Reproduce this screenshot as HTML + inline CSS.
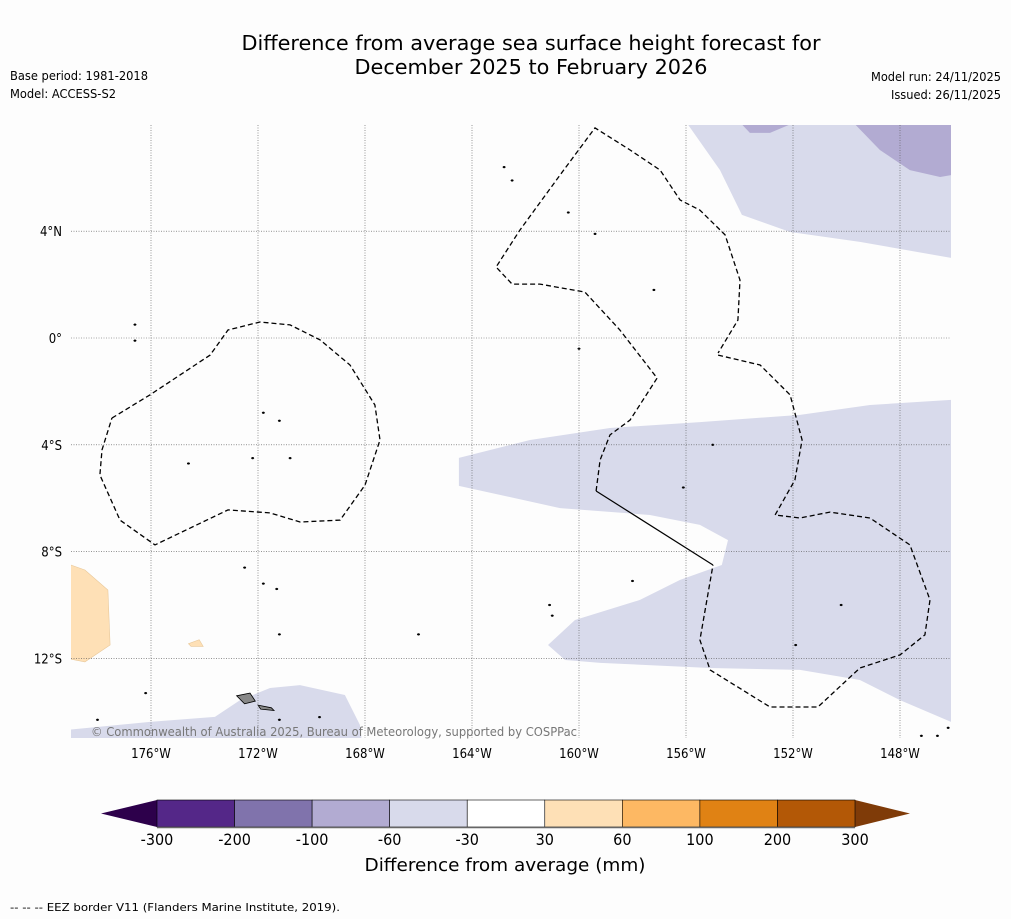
<!DOCTYPE html>
<html><head><meta charset="utf-8">
<style>
html,body{margin:0;padding:0;background:#fdfdfd;}
svg{display:block;font-family:"DejaVu Sans Condensed","DejaVu Sans","Liberation Sans",sans-serif;}
</style></head>
<body>
<svg id="chart" width="1011" height="919" viewBox="0 0 1011 919">
<rect width="1011" height="919" fill="#fdfdfd"/>
<text x="531" y="50" font-size="20" text-anchor="middle" textLength="579" lengthAdjust="spacingAndGlyphs">Difference from average sea surface height forecast for</text>
<text x="531" y="74" font-size="20" text-anchor="middle" textLength="353" lengthAdjust="spacingAndGlyphs">December 2025 to February 2026</text>
<text x="10" y="80" font-size="12" textLength="138" lengthAdjust="spacingAndGlyphs">Base period: 1981-2018</text>
<text x="10" y="98" font-size="12" textLength="106" lengthAdjust="spacingAndGlyphs">Model: ACCESS-S2</text>
<text x="1001" y="81" font-size="12" text-anchor="end" textLength="130" lengthAdjust="spacingAndGlyphs">Model run: 24/11/2025</text>
<text x="1001" y="99" font-size="12" text-anchor="end" textLength="110" lengthAdjust="spacingAndGlyphs">Issued: 26/11/2025</text>
<defs><clipPath id="mapclip"><rect x="71" y="125" width="880" height="613"/></clipPath></defs>
<g id="map" clip-path="url(#mapclip)"></g>
<g id="grid"></g>
<g id="eez" clip-path="url(#mapclip)"></g>
<text x="91" y="736" font-size="12" fill="#777" textLength="486" lengthAdjust="spacingAndGlyphs">© Commonwealth of Australia 2025, Bureau of Meteorology, supported by COSPPac</text>
<g id="axes"></g>
<g id="cbar"></g>
<text x="505" y="871" font-size="18" text-anchor="middle" textLength="281" lengthAdjust="spacingAndGlyphs">Difference from average (mm)</text>
<text x="10" y="911" font-size="11" textLength="330" lengthAdjust="spacingAndGlyphs">--  --  -- EEZ border V11 (Flanders Marine Institute, 2019).</text>
</svg>
<script>
const lonTicks=[-176,-172,-168,-164,-160,-156,-152,-148];
const latTicks=[4,0,-4,-8,-12];
const cbarBounds=[-300,-200,-100,-60,-30,30,60,100,200,300];
const cbarColors=["#542788","#8073ac","#b2abd2","#d8daeb","#ffffff","#fee0b6","#fdb863","#e08214","#b35806"];
const cbarExtColors=["#2d004b","#7f3b08"];
const areaLightPurple1=[[-164.49,-4.49],[-161.83,-3.82],[-158.84,-3.37],[-155.48,-3.15],[-151.74,-2.88],[-149.12,-2.51],[-146.09,-2.32],[-146.09,-14.38],[-148.0,-13.56],[-149.5,-12.81],[-151.74,-12.43],[-155.1,-12.36],[-159.2,-12.17],[-160.52,-12.06],[-161.16,-11.5],[-160.15,-10.56],[-157.72,-9.81],[-156.22,-9.06],[-154.66,-8.5],[-154.43,-7.57],[-155.48,-7.0],[-157.35,-6.63],[-160.71,-6.37],[-164.49,-5.54]];
const areaLightPurple2=[[-156.07,8.2],[-154.73,6.29],[-153.91,4.61],[-152.11,3.97],[-149.5,3.6],[-146.09,3.0],[-146.09,8.2]];
const areaLightPurple3=[[-179.2,-14.68],[-176.04,-14.38],[-173.61,-14.19],[-172.67,-13.56],[-171.55,-13.11],[-170.43,-13.0],[-168.75,-13.37],[-168.19,-14.49],[-168.11,-15.2],[-179.2,-15.2]];
const areaMidPurple1=[[-149.87,8.2],[-148.75,7.04],[-147.63,6.29],[-146.5,6.03],[-146.09,6.1],[-146.09,8.2]];
const areaMidPurple2=[[-153.91,8.0],[-152.11,8.0],[-152.86,7.68],[-153.61,7.68]];
const areaOrange1=[[-179.2,-8.43],[-178.47,-8.69],[-177.61,-9.44],[-177.53,-11.5],[-178.47,-12.13],[-179.2,-11.99]];
const areaOrange2=[[-174.6,-11.45],[-174.2,-11.3],[-174.05,-11.55],[-174.5,-11.55]];
const eezLeft=[[-177.46,-3.0],[-176.04,-2.13],[-173.79,-0.64],[-173.12,0.3],[-171.93,0.6],[-170.8,0.49],[-169.68,-0.07],[-168.56,-1.01],[-167.63,-2.51],[-167.44,-3.82],[-168.0,-5.51],[-168.93,-6.82],[-170.43,-6.89],[-171.55,-6.55],[-173.12,-6.44],[-175.85,-7.75],[-177.16,-6.82],[-177.91,-5.13],[-177.83,-4.19],[-177.46,-3.0]];
const eezMid=[[-159.36,-5.73],[-159.21,-4.57],[-158.84,-3.63],[-158.09,-3.07],[-157.08,-1.5],[-158.47,0.3],[-159.78,1.72],[-161.46,2.02],[-162.5,2.02],[-163.1,2.66],[-162.21,4.04],[-160.71,6.1],[-159.4,7.87],[-158.09,7.04],[-156.97,6.29],[-156.22,5.17],[-155.48,4.79],[-154.54,3.86],[-153.98,2.17],[-154.06,0.67],[-154.8,-0.56]];
const eezRight=[[-154.8,-0.64],[-153.23,-1.01],[-152.11,-2.13],[-151.66,-3.82],[-151.93,-5.32],[-152.67,-6.63],[-151.74,-6.74],[-150.62,-6.52],[-149.12,-6.74],[-147.63,-7.75],[-146.88,-9.81],[-147.07,-11.12],[-148.0,-11.87],[-149.5,-12.36],[-151.07,-13.82],[-152.86,-13.82],[-155.1,-12.43],[-155.48,-11.31],[-154.99,-8.5]];
const eezSolid=[[-154.99,-8.5],[-159.36,-5.73]];
const islands=[[-162.8,6.4],[-162.5,5.9],[-160.4,4.7],[-159.4,3.9],[-157.2,1.8],[-160.0,-0.4],[-171.8,-2.8],[-171.2,-3.1],[-174.6,-4.7],[-172.2,-4.5],[-170.8,-4.5],[-172.5,-8.6],[-171.8,-9.2],[-171.3,-9.4],[-171.2,-11.1],[-166.0,-11.1],[-161.1,-10.0],[-161.0,-10.4],[-158.0,-9.1],[-155.0,-4.0],[-156.1,-5.6],[-150.2,-10.0],[-151.9,-11.5],[-176.2,-13.3],[-178.0,-14.3],[-171.2,-14.3],[-169.7,-14.2],[-176.6,-0.1],[-176.6,0.5],[-147.2,-14.9],[-146.6,-14.9],[-146.2,-14.6]];
const samoa=[[[-172.8,-13.4],[-172.3,-13.3],[-172.1,-13.6],[-172.5,-13.7]],[[-172.0,-13.75],[-171.5,-13.85],[-171.4,-13.95],[-171.9,-13.9]]];

const NS='http://www.w3.org/2000/svg';
function px(lon){return 151+(lon+176)*26.75;}
function py(lat){return 338-lat*26.7;}
function pts(a){return a.map(p=>px(p[0]).toFixed(1)+','+py(p[1]).toFixed(1)).join(' ');}
function mk(tag,attrs,parent){const e=document.createElementNS(NS,tag);for(const k in attrs)e.setAttribute(k,attrs[k]);parent.appendChild(e);return e;}
const map=document.getElementById('map');
function area(a,fill,name,stroke){const e=mk('polygon',{points:pts(a),fill:fill,stroke:stroke||'none','stroke-width':0.6},map);

}
area(areaLightPurple1,'#d8daeb','anomaly-region-central');
area(areaLightPurple2,'#d8daeb','anomaly-region-northeast');
area(areaLightPurple3,'#d8daeb','anomaly-region-southwest');
area(areaMidPurple1,'#b2abd2','anomaly-region-northeast-strong');
area(areaMidPurple2,'#b2abd2','anomaly-region-north-strong');
area(areaOrange1,'#fee0b6','anomaly-region-west-positive','#e8c89a');
area(areaOrange2,'#fee0b6','anomaly-region-small-positive','#e8c89a');
islands.forEach(p=>{const e=mk('ellipse',{cx:px(p[0]),cy:py(p[1]),rx:1.3,ry:0.9,fill:'#000',stroke:'#000','stroke-width':0.5},map);

});
samoa.forEach(s=>{const e=mk('polygon',{points:pts(s),fill:'#888',stroke:'#000','stroke-width':0.8},map);

});
const grid=document.getElementById('grid');
lonTicks.forEach(l=>{const e=mk('line',{x1:px(l),x2:px(l),y1:125,y2:738,stroke:'#555','stroke-width':0.6,'stroke-dasharray':'1,1.5'},grid);

});
latTicks.forEach(l=>{const e=mk('line',{x1:71,x2:951,y1:py(l),y2:py(l),stroke:'#555','stroke-width':0.6,'stroke-dasharray':'1,1.5'},grid);

});
const eez=document.getElementById('eez');
[eezLeft,eezMid,eezRight].forEach(a=>{const e=mk('polyline',{points:pts(a),fill:'none',stroke:'#000','stroke-width':1.3,'stroke-dasharray':'5,3'},eez);

});
const es=mk('polyline',{points:pts(eezSolid),fill:'none',stroke:'#000','stroke-width':1.2},eez);


const axes=document.getElementById('axes');
lonTicks.forEach(l=>{const t=mk('text',{x:px(l),y:758,'font-size':13,'text-anchor':'middle'},axes);t.textContent=Math.abs(l)+'°W';

});
latTicks.forEach(l=>{const t=mk('text',{x:62,y:py(l)+5,'font-size':13,'text-anchor':'end'},axes);t.textContent=l===0?'0°':Math.abs(l)+'°'+(l>0?'N':'S');

});
const cb=document.getElementById('cbar');
const x0=157,x1=855,n=cbarColors.length,w=(x1-x0)/n,cy0=800,cy1=827;
const le=mk('polygon',{points:`${x0},${cy0} ${x0},${cy1} 101,813.5`,fill:cbarExtColors[0]},cb);


const re=mk('polygon',{points:`${x1},${cy0} ${x1},${cy1} 910,813.5`,fill:cbarExtColors[1]},cb);


cbarColors.forEach((c,i)=>{const r=mk('rect',{x:x0+i*w,y:cy0,width:w,height:cy1-cy0,fill:c,stroke:'#000','stroke-width':0.6},cb);

});
mk('line',{x1:x0,x2:x1,y1:cy1+0.5,y2:cy1+0.5,stroke:'#666','stroke-width':1.5},cb);
cbarBounds.forEach((b,i)=>{const t=mk('text',{x:x0+i*w,y:845,'font-size':16,'text-anchor':'middle'},cb);t.textContent=b;

});
</script>
</body></html>
